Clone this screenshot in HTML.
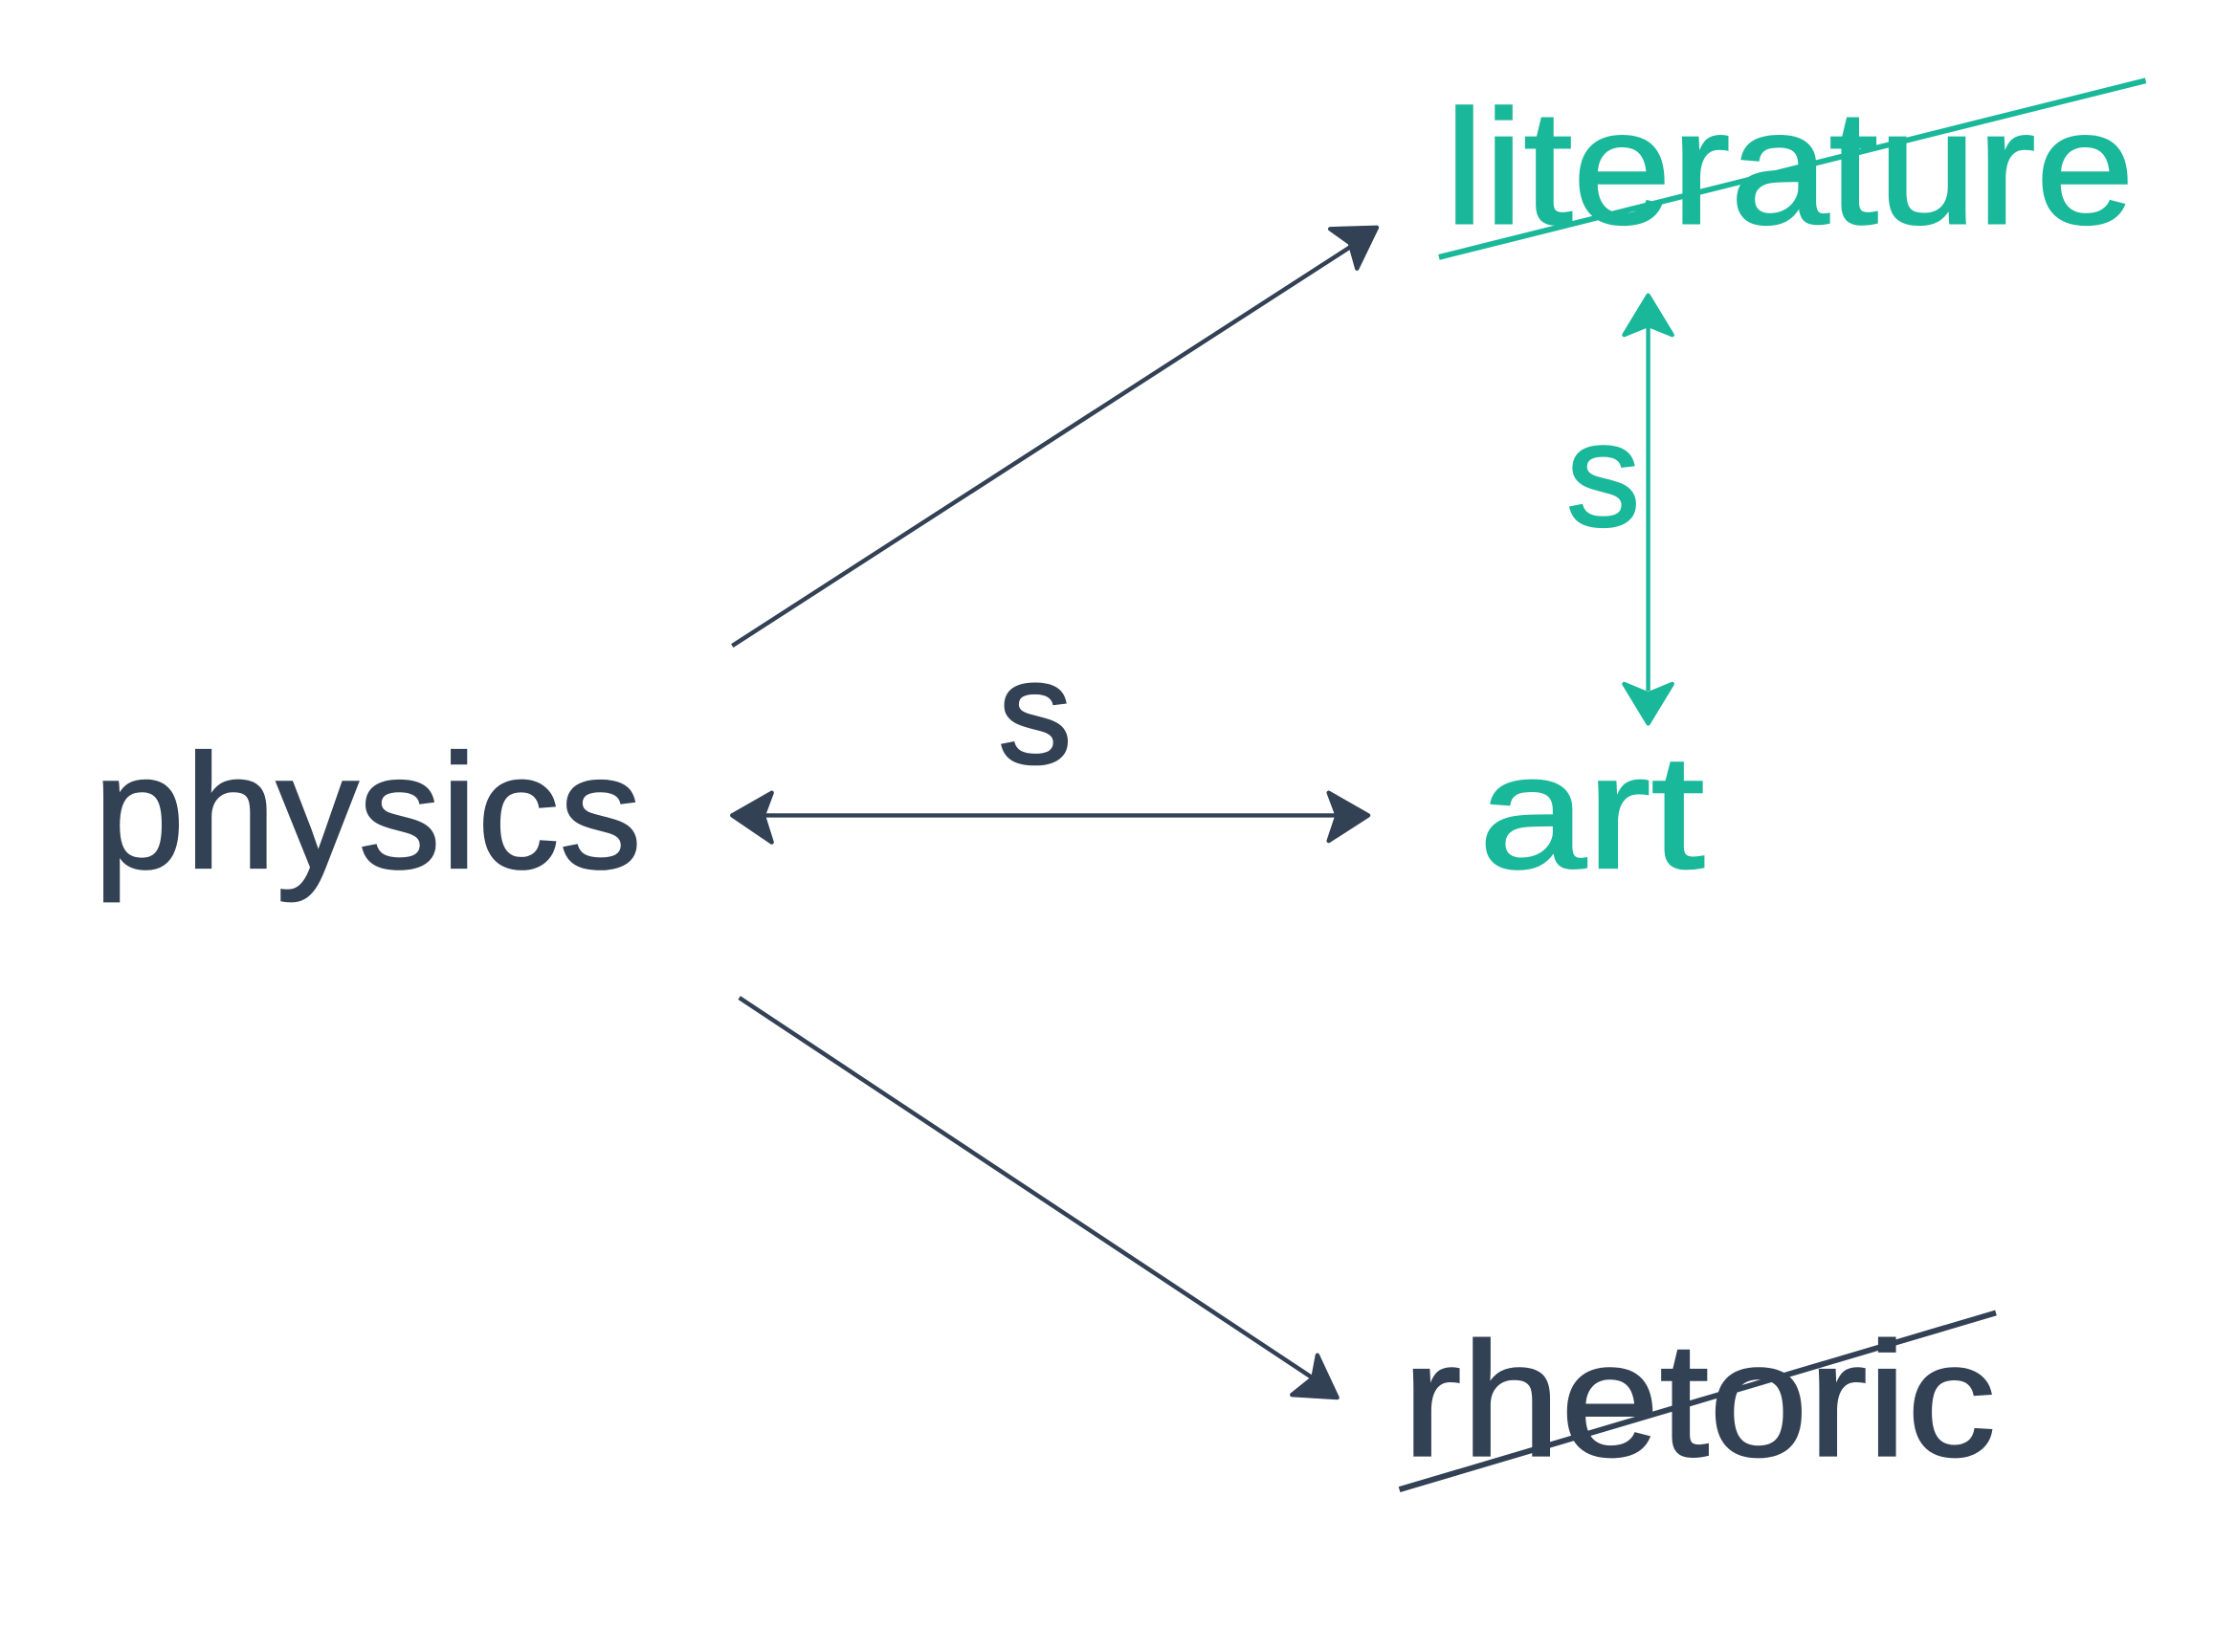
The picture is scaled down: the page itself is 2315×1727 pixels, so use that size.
<!DOCTYPE html>
<html><head><meta charset="utf-8"><style>
html,body{margin:0;padding:0;background:#fff;}
svg{display:block;}
text{font-family:"Liberation Sans",sans-serif;}
</style></head><body>
<svg width="2315" height="1727" viewBox="0 0 1567 1169" preserveAspectRatio="none" xmlns="http://www.w3.org/2000/svg">
<rect width="1567" height="1169" fill="#fff"/>
<g fill="#334155" stroke="#334155" stroke-width="1.4">
<text x="66" y="614" font-size="115" textLength="388" lengthAdjust="spacingAndGlyphs">physics</text>
<text x="992" y="1030" font-size="115" textLength="420" lengthAdjust="spacingAndGlyphs">rhetoric</text>
<text x="706" y="540" font-size="105">s</text>
</g>
<g fill="#1ab89a" stroke="#1ab89a" stroke-width="1.4">
<text x="1046" y="614" font-size="115" textLength="160" lengthAdjust="spacingAndGlyphs">art</text>
<text x="1022" y="158" font-size="115" textLength="488" lengthAdjust="spacingAndGlyphs">literature</text>
<text x="1108" y="372" font-size="105">s</text>
</g>
<line x1="1018" y1="182" x2="1518" y2="57" stroke="#1ab89a" stroke-width="4"/>
<line x1="990" y1="1054" x2="1412" y2="929" stroke="#334155" stroke-width="4"/>
<g stroke="#334155" stroke-width="3" fill="#334155" stroke-linejoin="round">
<line x1="518" y1="457" x2="958" y2="173" fill="none"/>
<polygon points="974,161 941,162 955,172 960,190"/>
<line x1="523" y1="706" x2="930" y2="976" fill="none"/>
<polygon points="946,989 932,959 929,975 914,987"/>
<line x1="540" y1="577" x2="946" y2="577" fill="none"/>
<polygon points="518,577 546,561 540,577 546,596"/>
<polygon points="968,577 940,561 946,577 940,595"/>
</g>
<g stroke="#1ab89a" stroke-width="3" fill="#1ab89a" stroke-linejoin="round">
<line x1="1166" y1="231" x2="1166" y2="489" fill="none"/>
<polygon points="1166,209 1149,237 1166,230 1183,237"/>
<polygon points="1166,512 1149,484 1166,491 1183,484"/>
</g>
</svg>
</body></html>
